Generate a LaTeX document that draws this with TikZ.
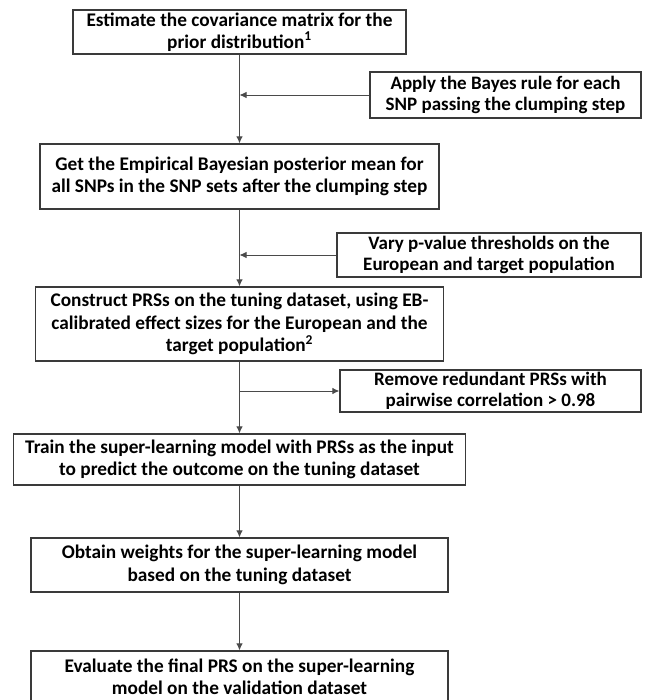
\documentclass[tikz,border=0pt]{standalone}
\usepackage{fontspec}
\setmainfont{Carlito}
\usetikzlibrary{arrows.meta}
\definecolor{boxline}{HTML}{3A3A3A}
\definecolor{conline}{HTML}{4A4A4A}
\tikzset{
  stepbox/.style={draw=boxline, line width=1.3pt, inner sep=0pt, align=center,
    font=\fontsize{19.3}{22.5}\selectfont\bfseries, text=black},
  sidebox/.style={stepbox, font=\fontsize{19}{21.5}\selectfont\bfseries},
  conn/.style={draw=conline, line width=0.9pt, -{Latex[length=7pt,width=6.5pt]}},
}
\begin{document}
\begin{tikzpicture}[x=1pt,y=1pt]
\useasboundingbox (0,0) rectangle (646,-700);
\node[stepbox, minimum width=333pt, minimum height=44pt] (b1) at (239.5,-32)
  {Estimate the covariance matrix for the\\prior distribution\textsuperscript{1}};
\node[sidebox, minimum width=271pt, minimum height=46pt] (ap) at (505.5,-95)
  {Apply the Bayes rule for each\\SNP passing the clumping step};
\node[stepbox, minimum width=399pt, minimum height=65pt] (b3) at (239.5,-176.5)
  {Get the Empirical Bayesian posterior mean for\\all SNPs in the SNP sets after the clumping step};
\node[sidebox, minimum width=304pt, minimum height=44pt] (va) at (489,-255)
  {Vary p-value thresholds on the\\European and target population};
\node[stepbox, minimum width=408pt, minimum height=74pt] (b5) at (239.5,-324)
  {Construct PRSs on the tuning dataset, using EB-\\calibrated effect sizes for the European and the\\target population\textsuperscript{2}};
\node[sidebox, minimum width=301pt, minimum height=42pt] (rm) at (490.5,-391)
  {Remove redundant PRSs with\\pairwise correlation > 0.98};
\node[stepbox, minimum width=452pt, minimum height=51pt] (b7) at (239.5,-459.5)
  {Train the super-learning model with PRSs as the input\\to predict the outcome on the tuning dataset};
\node[stepbox, minimum width=417pt, minimum height=54pt] (b8) at (239.5,-565)
  {Obtain weights for the super-learning model\\based on the tuning dataset};
\node[stepbox, minimum width=417pt, minimum height=52pt] (b9) at (239.5,-677)
  {Evaluate the final PRS on the super-learning\\model on the validation dataset};
\coordinate (j1) at (239.5,-95);
\coordinate (j2) at (239.5,-255);
\coordinate (j3) at (239.5,-391);
\draw[conn] (b1.south) -- (b3.north);
\draw[conn] (ap.west) -- (j1);
\draw[conn] (b3.south) -- (b5.north);
\draw[conn] (va.west) -- (j2);
\draw[conn] (b5.south) -- (b7.north);
\draw[conn] (j3) -- (rm.west);
\draw[conn] (b7.south) -- (b8.north);
\draw[conn] (b8.south) -- (b9.north);
\end{tikzpicture}
\end{document}
